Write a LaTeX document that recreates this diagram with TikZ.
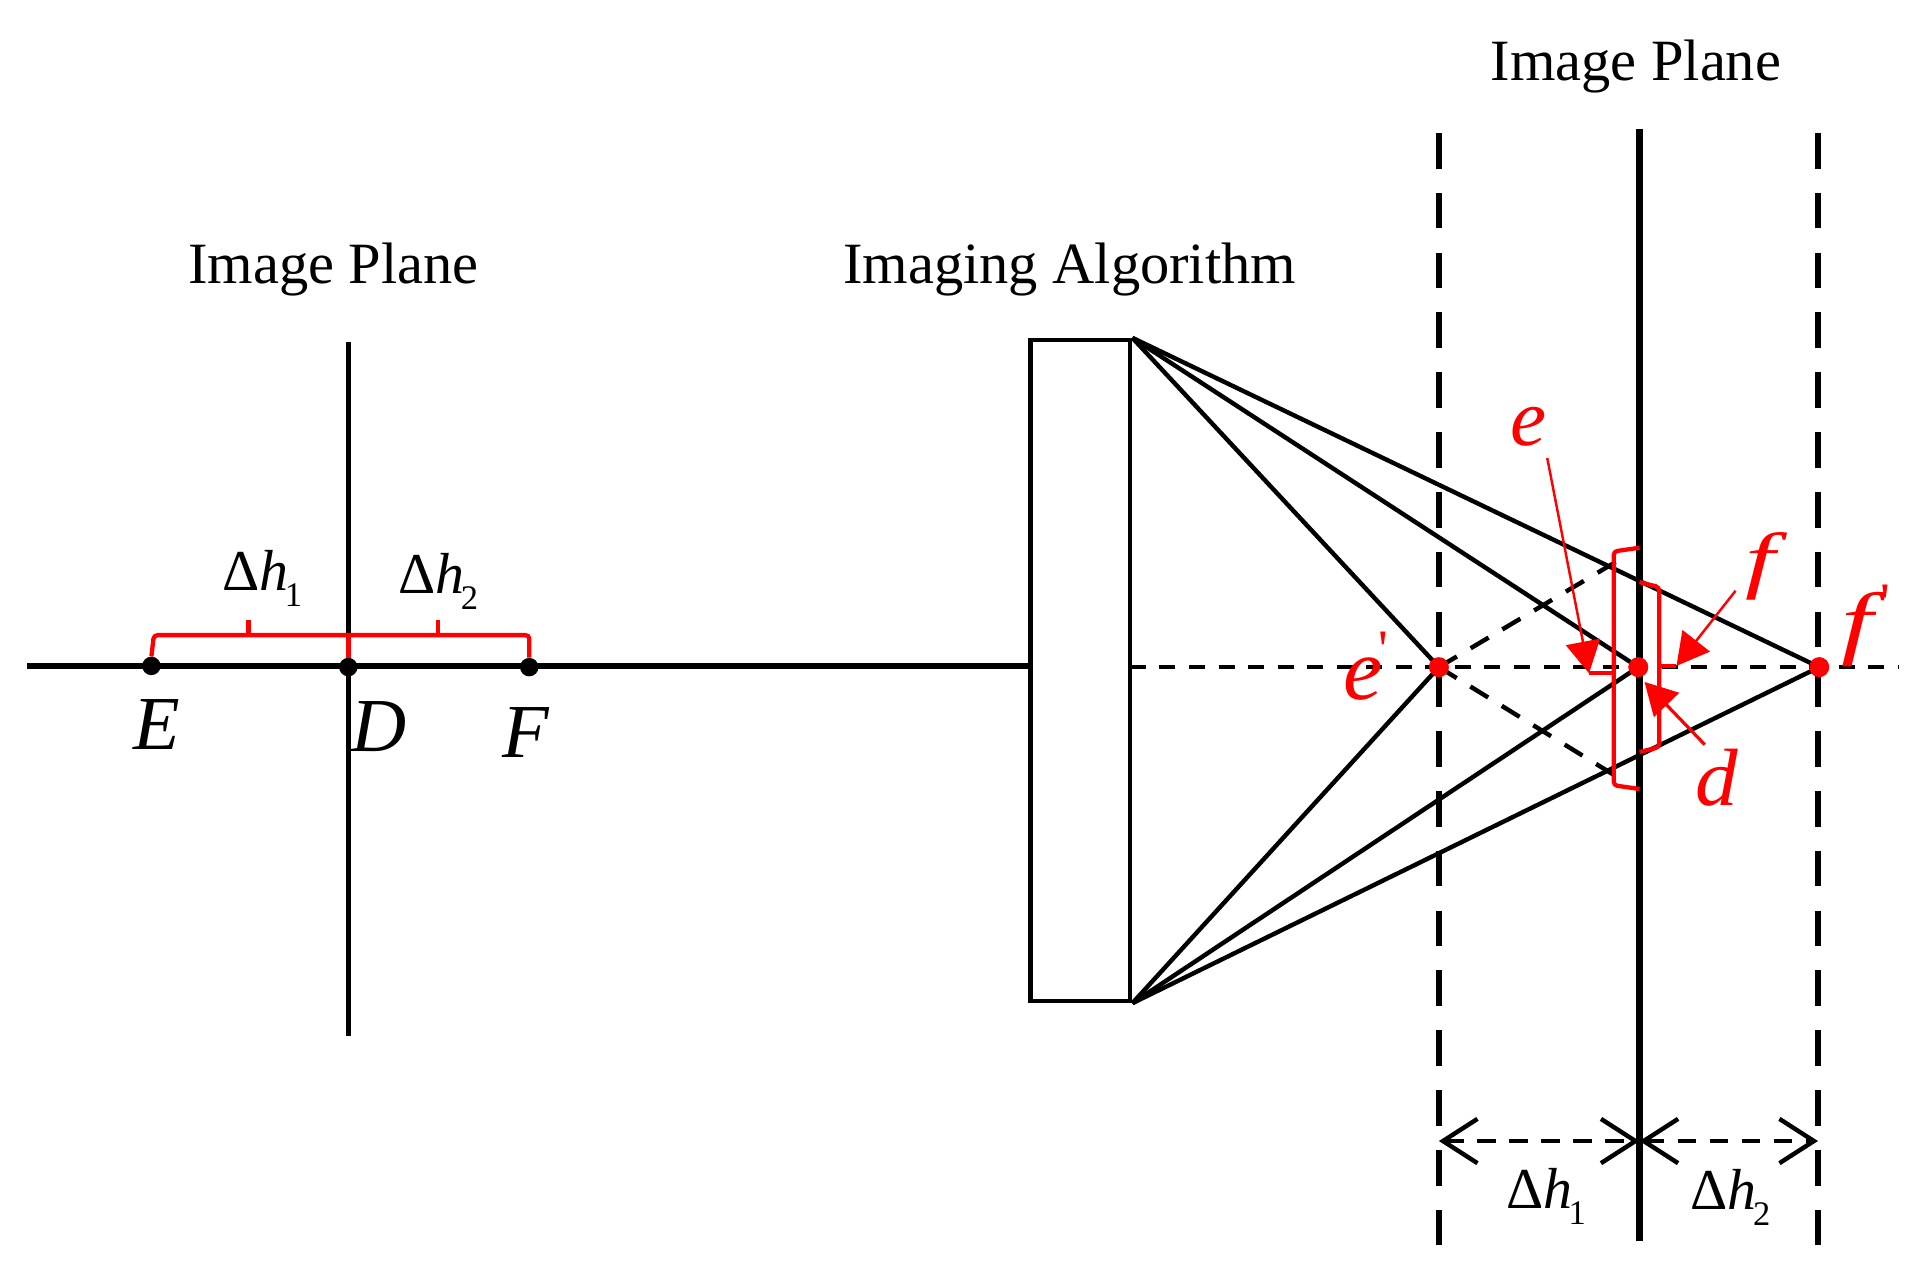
\documentclass[tikz,border=0pt]{standalone}
\usepackage{fontspec}
\setmainfont{Liberation Serif}
\newfontfamily\plainserif{Liberation Serif}
\usetikzlibrary{arrows.meta,calc}
\newcommand{\deltah}[1]{\char"0394\textit{h}\kern-3pt\raisebox{-13pt}{\fontsize{28}{28}\selectfont #1}}
\newcommand{\wideit}[2]{\scalebox{#1}[1]{#2}}
\tikzset{
 x=1pt,y=-1pt,
 lab/.style={font=\fontsize{47.5}{50}\selectfont,inner sep=0pt,text=black},
 dlab/.style={font=\fontsize{47}{50}\selectfont,inner sep=0pt,text=black},
 bigit/.style={font=\fontsize{62}{64}\selectfont\itshape,inner sep=0pt,text=black},
 redit/.style={font=\fontsize{66}{68}\selectfont\itshape,inner sep=0pt,text=red},
 redf/.style={font=\fontsize{60}{62}\selectfont\itshape,inner sep=0pt,text=red},
 solidline/.style={draw=black,line width=4.6pt},
 ray/.style={draw=black,line width=3.6pt},
 planeline/.style={draw=black,line width=5pt},
 planedash/.style={draw=black,line width=5.4pt,dash pattern=on 29pt off 19.6pt},
 axisdash/.style={draw=black,line width=3.6pt,dash pattern=on 13pt off 11pt},
 contdash/.style={draw=black,line width=3.6pt,dash pattern=on 17pt off 13pt},
 dimdash/.style={draw=black,line width=3.6pt,dash pattern=on 15pt off 11pt,
   {Straight Barb[length=28pt,width=36pt,line width=3.6pt]}-{Straight Barb[length=28pt,width=36pt,line width=3.6pt]}},
 blackdot/.style={circle,fill=black,inner sep=0pt,minimum size=15pt},
 reddot/.style={circle,fill=red,inner sep=0pt,minimum size=16pt},
 bracket/.style={draw=red,line width=3.5pt,rounded corners=3pt},
 pointer/.style={draw=red,line width=2pt,-{Triangle[length=26pt,width=28pt]}},
}
\begin{document}
\begin{tikzpicture}
\useasboundingbox (0,0) rectangle (1568,1044);
% --- left part
\coordinate (hl) at (22,541);
\node[draw=black,line width=3.5pt,minimum width=81pt,minimum height=537pt,inner sep=0pt,anchor=north west] (box) at (835.5,274.5) {};
\coordinate (vt) at (283,278);
\coordinate (vb) at (283,842);
\draw[solidline] (hl) -- (box.west |- hl);
\draw[solidline] (vt) -- (vb);
\node[blackdot] (E) at (123,541) {};
\node[blackdot] (D) at (283,542) {};
\node[blackdot] (F) at (430,542) {};
\node[lab] (t1) at (271,219) {Image Plane};
\node[lab] (t2) at (869,219) {Imaging Algorithm};
\node[lab] (t3) at (1329,54) {Image Plane};
\node[bigit] (lE) at (127,589) {E};
\node[bigit] (lD) at (308,590) {D};
\node[bigit] (lF) at (427,595) {F};
\node[dlab] (d1) at (213,470) {\deltah{1}};
\node[dlab] (d2) at (356,472) {\deltah{2}};
% left red brackets
\coordinate (lbE) at (125,516); \coordinate (lbD) at (283,516); \coordinate (lbF) at (430,516);
\draw[bracket] (E.north) -- (lbE) -- (lbD) -- (lbF) -- (F.north);
\draw[draw=red,line width=4.2pt] (D.north) -- (lbD);
\coordinate (tk1) at (202,504); \coordinate (tk2) at (356,504);
\draw[draw=red,line width=3.5pt] (tk1) -- (tk1 |- lbE);
\draw[draw=red,line width=3.5pt] (tk2) -- (tk2 |- lbE);
% --- right part
\coordinate (a1) at (1169,108); \coordinate (a2) at (1169,1012);
\coordinate (b1) at (1332,105); \coordinate (b2) at (1332,1008);
\coordinate (c1) at (1477,108); \coordinate (c2) at (1477,1012);
\draw[planedash] (a1) -- (a2);
\draw[planedash] (c1) -- (c2);
\draw[planeline] (b1) -- (b2);
\coordinate (axisend) at (1543,542);
\node[reddot] (ep) at (1169,542) {};
\node[reddot] (dd) at (1331,542) {};
\node[reddot] (fp) at (1478,542) {};
\coordinate (axisstart) at (918,542);
\draw[axisdash] (axisstart) -- (axisend);
\draw[ray] (box.north east) -- (ep.center);
\draw[ray] (box.north east) -- (dd.center);
\draw[ray] (box.north east) -- (fp.center);
\draw[ray] (box.south east) -- (ep.center);
\draw[ray] (box.south east) -- (dd.center);
\draw[ray] (box.south east) -- (fp.center);
\coordinate (dup) at (1322,451); \coordinate (ddn) at (1320,635);
\draw[contdash] (ep.center) -- (dup);
\draw[contdash] (ep.center) -- (ddn);
\node[reddot] at (ep) {};
\node[reddot] at (dd) {};
\node[reddot] at (fp) {};
% red brackets
\draw[bracket] (1332,445) -- (1311,448) -- (1311,638) -- (1332,641);
\draw[bracket] (1332,473) -- (1348,477) -- (1348,607) -- (1332,611);
\coordinate (te) at (1291,547); \coordinate (tf) at (1362,541);
\draw[draw=red,line width=3.5pt] (te) -- (1311,547);
\draw[draw=red,line width=3.5pt] (tf) -- (1348,541);
\node[redit] (le) at (1242,347) {e};
\node[redit,anchor=base west,font=\fontsize{72}{74}\selectfont\itshape] (lep) at (1091,568) {e\kern-3pt\raisebox{26pt}{\plainserif\upshape\fontsize{44}{44}\selectfont '}};
\node[redf] (lf) at (1430,460) {\wideit{1.45}{f}};
\node[redf,anchor=base west,font=\fontsize{66}{68}\selectfont\itshape] (lfp) at (1496,528) {\wideit{1.4}{f}\kern6pt\raisebox{24pt}{\plainserif\upshape\fontsize{44}{44}\selectfont '}};
\node[redit] (ld) at (1395,632) {\wideit{1.05}{d}};
\coordinate (pe) at (1257,372); \coordinate (pf) at (1410,480); \coordinate (pd) at (1385,605);
\draw[pointer] (pe) -- (te);
\draw[pointer] (pf) -- (tf);
\draw[pointer,line width=2.6pt] (pd) -- (1336,554);
% dimension arrows
\coordinate (dy) at (0,927);
\draw[dimdash] (a1 |- dy) -- (b1 |- dy);
\draw[dimdash] (b1 |- dy) -- (c1 |- dy);
\node[dlab] (d3) at (1256,972) {\deltah{1}};
\node[dlab] (d4) at (1406,973) {\deltah{2}};
\end{tikzpicture}
\end{document}
